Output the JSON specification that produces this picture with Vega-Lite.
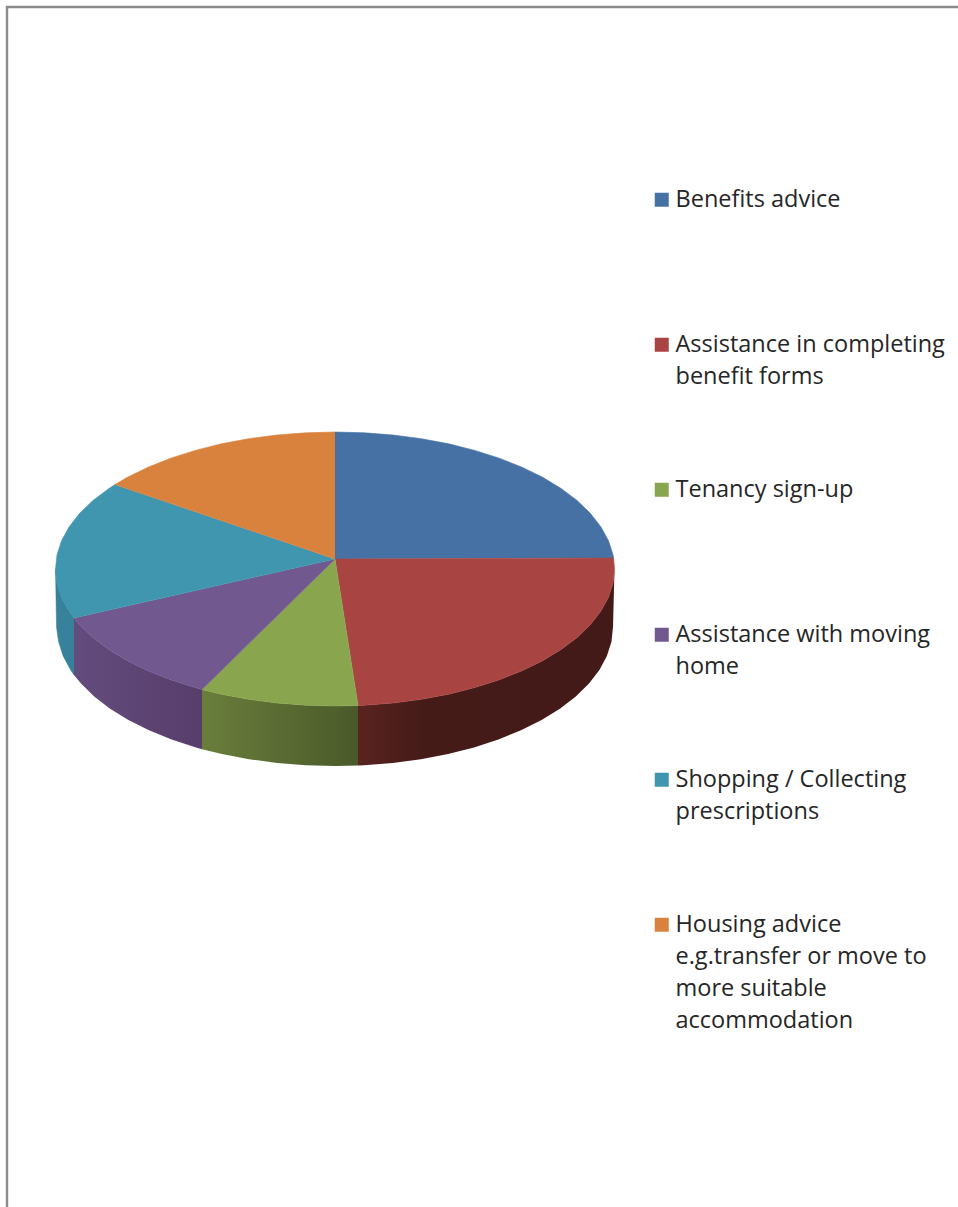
{
"$schema":"https://vega.github.io/schema/vega-lite/v6.json",
"width":958,"height":1207,"padding":0,"autosize":{"type":"none"},
"background":"white",
"view":{"stroke":null},
"config":{"font":"Open Sans"},
"datasets":{
"frame":[{"x":7,"y":1207,"step":1},{"x":7,"y":7,"step":2},{"x":958,"y":7,"step":3}],
"redSide":[
{"step":1,"x":614.5,"y":569},{"step":2,"x":613,"y":583.3},{"step":3,"x":608.4,"y":597.5},{"step":4,"x":600.8,"y":611.3},{"step":5,"x":590.3,"y":624.7},{"step":6,"x":577.1,"y":637.5},{"step":7,"x":561.1,"y":649.5},{"step":8,"x":542.7,"y":660.7},{"step":9,"x":522,"y":670.8},{"step":10,"x":499.3,"y":679.8},{"step":11,"x":474.8,"y":687.6},{"step":12,"x":448.7,"y":694.2},{"step":13,"x":421.4,"y":699.3},{"step":14,"x":393.1,"y":703},{"step":15,"x":364.2,"y":705.2},{"step":16,"x":358,"y":705.5},
{"step":17,"x":358,"y":765.5},{"step":18,"x":364.1,"y":765.2},{"step":19,"x":392.8,"y":763},{"step":20,"x":420.9,"y":759.2},{"step":21,"x":448.1,"y":754},{"step":22,"x":474,"y":747.4},{"step":23,"x":498.4,"y":739.5},{"step":24,"x":521,"y":730.3},{"step":25,"x":541.6,"y":720},{"step":26,"x":559.9,"y":708.7},{"step":27,"x":575.8,"y":696.5},{"step":28,"x":589,"y":683.5},{"step":29,"x":599.4,"y":670},{"step":30,"x":606.9,"y":655.9},{"step":31,"x":611.5,"y":641.5},{"step":32,"x":613,"y":627}],
"greenSide":[
{"step":1,"x":358,"y":705.5},{"step":2,"x":335,"y":706},{"step":3,"x":305.8,"y":705.2},{"step":4,"x":276.9,"y":703},{"step":5,"x":248.6,"y":699.3},{"step":6,"x":221.3,"y":694.2},{"step":7,"x":202,"y":689.5},
{"step":8,"x":202,"y":749.3},{"step":9,"x":221.9,"y":754},{"step":10,"x":249.1,"y":759.2},{"step":11,"x":277.2,"y":763},{"step":12,"x":305.9,"y":765.2},{"step":13,"x":335,"y":766},{"step":14,"x":358,"y":765.5}],
"purpleSide":[
{"step":1,"x":202,"y":689.5},{"step":2,"x":195.2,"y":687.6},{"step":3,"x":170.7,"y":679.8},{"step":4,"x":148,"y":670.8},{"step":5,"x":127.3,"y":660.7},{"step":6,"x":108.9,"y":649.5},{"step":7,"x":92.9,"y":637.5},{"step":8,"x":79.7,"y":624.7},{"step":9,"x":74,"y":618},
{"step":10,"x":74,"y":675},{"step":11,"x":81,"y":683.5},{"step":12,"x":94.2,"y":696.5},{"step":13,"x":110.1,"y":708.7},{"step":14,"x":128.4,"y":720},{"step":15,"x":149,"y":730.3},{"step":16,"x":171.6,"y":739.5},{"step":17,"x":196,"y":747.4},{"step":18,"x":202,"y":749.3}],
"tealSide":[
{"step":1,"x":74,"y":618},{"step":2,"x":69.2,"y":611.3},{"step":3,"x":61.6,"y":597.5},{"step":4,"x":57,"y":583.3},{"step":5,"x":55.5,"y":569},
{"step":6,"x":56.5,"y":627},{"step":7,"x":58.5,"y":641.5},{"step":8,"x":63.1,"y":655.9},{"step":9,"x":70.6,"y":670},{"step":10,"x":74,"y":675}],
"top":[
{"slice":"Benefits advice","step":0,"x":335,"y":559},{"slice":"Benefits advice","step":1,"x":335,"y":432},{"slice":"Benefits advice","step":2,"x":364.2,"y":432.8},{"slice":"Benefits advice","step":3,"x":393.1,"y":435},{"slice":"Benefits advice","step":4,"x":421.4,"y":438.7},{"slice":"Benefits advice","step":5,"x":448.7,"y":443.8},{"slice":"Benefits advice","step":6,"x":474.8,"y":450.4},{"slice":"Benefits advice","step":7,"x":499.3,"y":458.2},{"slice":"Benefits advice","step":8,"x":522,"y":467.2},{"slice":"Benefits advice","step":9,"x":542.7,"y":477.3},{"slice":"Benefits advice","step":10,"x":561.1,"y":488.5},{"slice":"Benefits advice","step":11,"x":577.1,"y":500.5},{"slice":"Benefits advice","step":12,"x":590.3,"y":513.3},{"slice":"Benefits advice","step":13,"x":600.8,"y":526.7},{"slice":"Benefits advice","step":14,"x":608.4,"y":540.5},{"slice":"Benefits advice","step":15,"x":613,"y":554.7},{"slice":"Benefits advice","step":16,"x":613.6,"y":558},
{"slice":"Assistance in completing benefit forms","step":0,"x":335,"y":559},{"slice":"Assistance in completing benefit forms","step":1,"x":613.6,"y":558},{"slice":"Assistance in completing benefit forms","step":2,"x":614.5,"y":569},{"slice":"Assistance in completing benefit forms","step":3,"x":613,"y":583.3},{"slice":"Assistance in completing benefit forms","step":4,"x":608.4,"y":597.5},{"slice":"Assistance in completing benefit forms","step":5,"x":600.8,"y":611.3},{"slice":"Assistance in completing benefit forms","step":6,"x":590.3,"y":624.7},{"slice":"Assistance in completing benefit forms","step":7,"x":577.1,"y":637.5},{"slice":"Assistance in completing benefit forms","step":8,"x":561.1,"y":649.5},{"slice":"Assistance in completing benefit forms","step":9,"x":542.7,"y":660.7},{"slice":"Assistance in completing benefit forms","step":10,"x":522,"y":670.8},{"slice":"Assistance in completing benefit forms","step":11,"x":499.3,"y":679.8},{"slice":"Assistance in completing benefit forms","step":12,"x":474.8,"y":687.6},{"slice":"Assistance in completing benefit forms","step":13,"x":448.7,"y":694.2},{"slice":"Assistance in completing benefit forms","step":14,"x":421.4,"y":699.3},{"slice":"Assistance in completing benefit forms","step":15,"x":393.1,"y":703},{"slice":"Assistance in completing benefit forms","step":16,"x":364.2,"y":705.2},{"slice":"Assistance in completing benefit forms","step":17,"x":358,"y":705.5},
{"slice":"Tenancy sign-up","step":0,"x":335,"y":559},{"slice":"Tenancy sign-up","step":1,"x":358,"y":705.5},{"slice":"Tenancy sign-up","step":2,"x":335,"y":706},{"slice":"Tenancy sign-up","step":3,"x":305.8,"y":705.2},{"slice":"Tenancy sign-up","step":4,"x":276.9,"y":703},{"slice":"Tenancy sign-up","step":5,"x":248.6,"y":699.3},{"slice":"Tenancy sign-up","step":6,"x":221.3,"y":694.2},{"slice":"Tenancy sign-up","step":7,"x":202,"y":689.5},
{"slice":"Assistance with moving home","step":0,"x":335,"y":559},{"slice":"Assistance with moving home","step":1,"x":202,"y":689.5},{"slice":"Assistance with moving home","step":2,"x":195.2,"y":687.6},{"slice":"Assistance with moving home","step":3,"x":170.7,"y":679.8},{"slice":"Assistance with moving home","step":4,"x":148,"y":670.8},{"slice":"Assistance with moving home","step":5,"x":127.3,"y":660.7},{"slice":"Assistance with moving home","step":6,"x":108.9,"y":649.5},{"slice":"Assistance with moving home","step":7,"x":92.9,"y":637.5},{"slice":"Assistance with moving home","step":8,"x":79.7,"y":624.7},{"slice":"Assistance with moving home","step":9,"x":74,"y":618},
{"slice":"Shopping / Collecting prescriptions","step":0,"x":335,"y":559},{"slice":"Shopping / Collecting prescriptions","step":1,"x":74,"y":618},{"slice":"Shopping / Collecting prescriptions","step":2,"x":69.2,"y":611.3},{"slice":"Shopping / Collecting prescriptions","step":3,"x":61.6,"y":597.5},{"slice":"Shopping / Collecting prescriptions","step":4,"x":57,"y":583.3},{"slice":"Shopping / Collecting prescriptions","step":5,"x":55.5,"y":569},{"slice":"Shopping / Collecting prescriptions","step":6,"x":57,"y":554.7},{"slice":"Shopping / Collecting prescriptions","step":7,"x":61.6,"y":540.5},{"slice":"Shopping / Collecting prescriptions","step":8,"x":69.2,"y":526.7},{"slice":"Shopping / Collecting prescriptions","step":9,"x":79.7,"y":513.3},{"slice":"Shopping / Collecting prescriptions","step":10,"x":92.9,"y":500.5},{"slice":"Shopping / Collecting prescriptions","step":11,"x":108.9,"y":488.5},{"slice":"Shopping / Collecting prescriptions","step":12,"x":115,"y":484.5},
{"slice":"Housing advice e.g.transfer or move to more suitable accommodation","step":0,"x":335,"y":559},{"slice":"Housing advice e.g.transfer or move to more suitable accommodation","step":1,"x":115,"y":484.5},{"slice":"Housing advice e.g.transfer or move to more suitable accommodation","step":2,"x":127.3,"y":477.3},{"slice":"Housing advice e.g.transfer or move to more suitable accommodation","step":3,"x":148,"y":467.2},{"slice":"Housing advice e.g.transfer or move to more suitable accommodation","step":4,"x":170.7,"y":458.2},{"slice":"Housing advice e.g.transfer or move to more suitable accommodation","step":5,"x":195.2,"y":450.4},{"slice":"Housing advice e.g.transfer or move to more suitable accommodation","step":6,"x":221.3,"y":443.8},{"slice":"Housing advice e.g.transfer or move to more suitable accommodation","step":7,"x":248.6,"y":438.7},{"slice":"Housing advice e.g.transfer or move to more suitable accommodation","step":8,"x":276.9,"y":435},{"slice":"Housing advice e.g.transfer or move to more suitable accommodation","step":9,"x":305.8,"y":432.8},{"slice":"Housing advice e.g.transfer or move to more suitable accommodation","step":10,"x":335,"y":432}
]
},
"encoding":{
"x":{"field":"x","type":"quantitative","scale":{"domain":[0,958],"nice":false,"zero":false},"axis":null},
"y":{"field":"y","type":"quantitative","scale":{"domain":[1207,0],"nice":false,"zero":false},"axis":null},
"order":{"field":"step","type":"quantitative"}
},
"layer":[
{"data":{"name":"frame"},"mark":{"type":"line","stroke":"#8c8c8c","strokeWidth":2.4,"clip":false,"strokeCap":"square"}},
{"data":{"name":"tealSide"},"mark":{"type":"line","fill":"#37819a","stroke":"#37819a","strokeWidth":0.5}},
{"data":{"name":"purpleSide"},"mark":{"type":"line","stroke":null,"fill":{"gradient":"linear","x1":0,"y1":0,"x2":1,"y2":0,"stops":[{"offset":0,"color":"#634c7e"},{"offset":1,"color":"#573d6a"}]}}},
{"data":{"name":"greenSide"},"mark":{"type":"line","stroke":null,"fill":{"gradient":"linear","x1":0,"y1":0,"x2":1,"y2":0,"stops":[{"offset":0,"color":"#6a7e3b"},{"offset":1,"color":"#4a592a"}]}}},
{"data":{"name":"redSide"},"mark":{"type":"line","stroke":null,"fill":{"gradient":"linear","x1":0,"y1":0,"x2":1,"y2":0,"stops":[{"offset":0,"color":"#5a2320"},{"offset":0.25,"color":"#451b18"},{"offset":1,"color":"#431a18"}]}}},
{"data":{"name":"top"},"mark":{"type":"line","strokeWidth":0.6},
"encoding":{
"detail":{"field":"slice"},
"stroke":{"field":"slice","type":"nominal","legend":null,"scale":{"domain":["Benefits advice","Assistance in completing benefit forms","Tenancy sign-up","Assistance with moving home","Shopping / Collecting prescriptions","Housing advice e.g.transfer or move to more suitable accommodation"],"range":["#4571a5","#a84442","#89a54e","#71588f","#4096ae","#d9823d"]}},
"fill":{"field":"slice","type":"nominal","scale":{"domain":["Benefits advice","Assistance in completing benefit forms","Tenancy sign-up","Assistance with moving home","Shopping / Collecting prescriptions","Housing advice e.g.transfer or move to more suitable accommodation"],"range":["#4571a5","#a84442","#89a54e","#71588f","#4096ae","#d9823d"]},
"legend":{"title":null,"orient":"none","legendX":650,"legendY":188,"padding":0,"columns":1,"gridAlign":"all","symbolType":"square","symbolSize":196,"symbolStrokeWidth":0,"symbolOffset":0,"labelOffset":2,"rowPadding":24,"labelFont":"Open Sans","labelFontSize":23.5,"labelColor":"#262626","labelBaseline":"alphabetic","labelLimit":400,
"encoding":{"labels":{"lineHeight":{"value":32},"dy":{"value":7}}},
"labelExpr":"datum.label == 'Assistance in completing benefit forms' ? ['Assistance in completing','benefit forms'] : datum.label == 'Assistance with moving home' ? ['Assistance with moving','home'] : datum.label == 'Shopping / Collecting prescriptions' ? ['Shopping / Collecting','prescriptions'] : datum.label == 'Housing advice e.g.transfer or move to more suitable accommodation' ? ['Housing advice','e.g.transfer or move to','more suitable','accommodation'] : datum.label"}}
}}
]
}
